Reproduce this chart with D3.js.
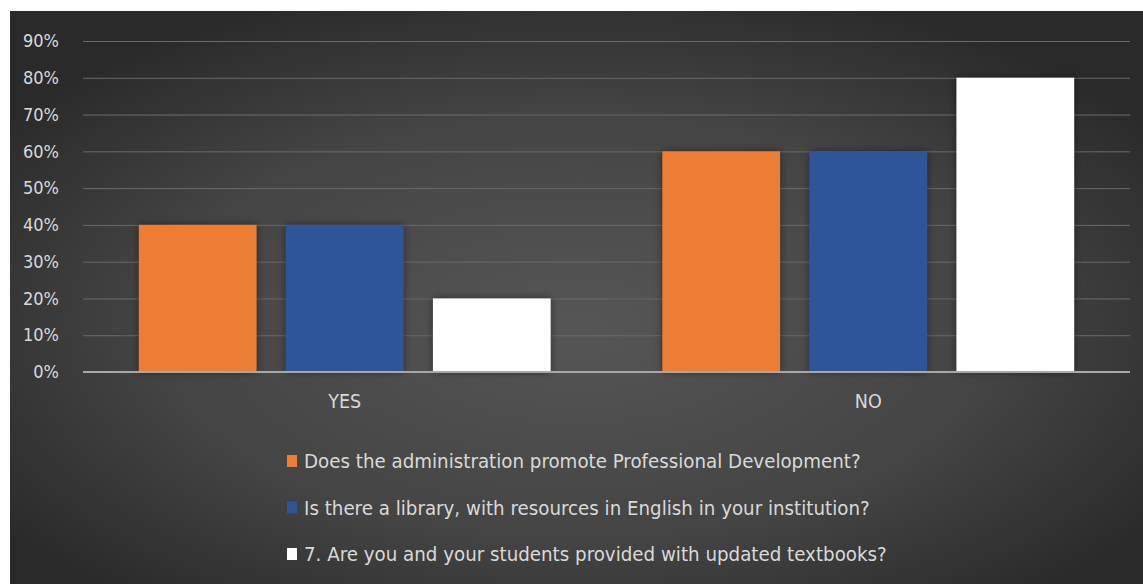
<!DOCTYPE html>
<html>
<head>
<meta charset="utf-8">
<script src="https://cdn.jsdelivr.net/npm/d3@7"></script>
<style>
  html, body { margin: 0; padding: 0; background: #ffffff; }
  svg { display: block; }
  text { font-family: "DejaVu Sans Condensed", "Liberation Sans", sans-serif; }
</style>
</head>
<body>
<svg id="chart" width="1143" height="584"></svg>
<script>
// Survey answers grouped by response
const categories = ["YES", "NO"];
const seriesNames = [
  "Does the administration promote Professional Development?",
  "Is there a library, with resources in English in your institution?",
  "7. Are you and your students provided with updated textbooks?"
];
const adminPD = [0.40, 0.60];
const library = [0.40, 0.60];
const textbooks = [0.20, 0.80];
const tickValues = [0, 0.1, 0.2, 0.3, 0.4, 0.5, 0.6, 0.7, 0.8, 0.9];
const seriesColors = ["#ED7D31", "#2F5597", "#FFFFFF"];

const seriesValues = [adminPD, library, textbooks];

const svg = d3.select("#chart");
const W = 1143, H = 584;

// background panel with soft radial shading
const defs = svg.append("defs");
const grad = defs.append("radialGradient")
  .attr("id", "bg").attr("cx", "50%").attr("cy", "55%").attr("r", "62%");
grad.append("stop").attr("offset", "0%").attr("stop-color", "#565656");
grad.append("stop").attr("offset", "60%").attr("stop-color", "#444444");
grad.append("stop").attr("offset", "100%").attr("stop-color", "#2a2a2a");

const shadow = defs.append("filter").attr("id", "barShadow")
  .attr("x", "-20%").attr("y", "-20%").attr("width", "140%").attr("height", "140%");
shadow.append("feDropShadow").attr("dx", 0).attr("dy", 0)
  .attr("stdDeviation", 4).attr("flood-color", "#000").attr("flood-opacity", 0.45);

svg.append("rect").attr("x", 10).attr("y", 11)
  .attr("width", W - 10).attr("height", H - 11).attr("fill", "url(#bg)");

const plotLeft = 83, plotRight = 1130;
const y = d3.scaleLinear().domain([0, 0.9]).range([372, 41]);
const x0 = d3.scaleBand().domain(categories).range([plotLeft, plotRight]).padding(0);
const x1 = d3.scaleBand().domain(d3.range(seriesNames.length))
  .range([0, x0.bandwidth()]).paddingInner(0.2).paddingOuter(0.38);

// gridlines
const grid = svg.append("g")
  .attr("transform", `translate(${plotLeft},0)`)
  .call(d3.axisLeft(y).tickValues(tickValues).tickSize(-(plotRight - plotLeft)).tickFormat(""));
grid.select(".domain").remove();
grid.selectAll(".tick line").attr("stroke", "#6a6a6a").attr("stroke-width", 1);
grid.selectAll(".tick").filter(d => d === 0).remove();

// tick labels
const yAxis = svg.append("g").attr("transform", "translate(59,0)")
  .call(d3.axisLeft(y).tickValues(tickValues).tickSize(0).tickPadding(0)
    .tickFormat(d3.format(".0%")));
yAxis.select(".domain").remove();
yAxis.selectAll("text").attr("fill", "#d9d9d9").attr("font-size", 18)
  .style("font-family", null);

// bars
const groups = svg.append("g").selectAll("g")
  .data(categories)
  .join("g")
  .attr("transform", d => `translate(${x0(d)},0)`);

groups.selectAll("rect")
  .data((d, i) => seriesValues.map((vals, s) => ({ s, v: vals[i] })))
  .join("rect")
  .attr("x", d => x1(d.s))
  .attr("width", x1.bandwidth())
  .attr("y", d => y(d.v))
  .attr("height", d => y(0) - y(d.v))
  .attr("fill", d => seriesColors[d.s])
  .attr("filter", "url(#barShadow)");

// baseline
svg.append("line")
  .attr("x1", plotLeft).attr("x2", plotRight)
  .attr("y1", y(0)).attr("y2", y(0))
  .attr("stroke", "#a8a8a8").attr("stroke-width", 2);

// category axis labels
const xAxis = svg.append("g").attr("transform", `translate(0,${y(0)})`)
  .call(d3.axisBottom(x0).tickSize(0).tickPadding(22));
xAxis.select(".domain").remove();
xAxis.selectAll("text").attr("fill", "#d9d9d9").attr("font-size", 19.5)
  .style("font-family", null);

// legend
const legend = svg.append("g").selectAll("g")
  .data(seriesNames)
  .join("g")
  .attr("transform", (d, i) => `translate(287,${461 + i * 46.5})`);
legend.append("rect")
  .attr("x", 0).attr("y", -6).attr("width", 10).attr("height", 12)
  .attr("fill", (d, i) => seriesColors[i]);
legend.append("text")
  .attr("x", 17).attr("y", 0).attr("dy", "0.35em")
  .attr("fill", "#d9d9d9").attr("font-size", 20.3)
  .text(d => d);
</script>
</body>
</html>
